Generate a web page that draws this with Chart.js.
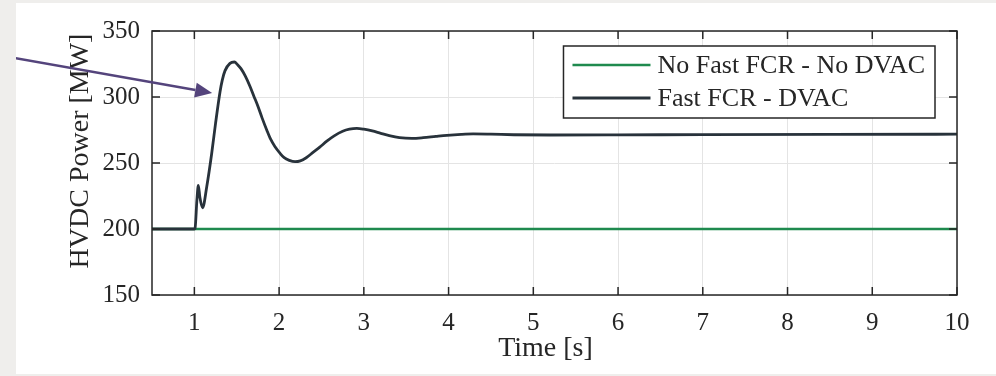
<!DOCTYPE html>
<html>
<head>
<meta charset="utf-8">
<script src="https://cdn.jsdelivr.net/npm/chart.js@4.4.0/dist/chart.umd.min.js"></script>
<style>
    html, body { margin: 0; padding: 0; background: #efeeec; }
    #panel { position: absolute; left: 16px; top: 3px; width: 980px; height: 371px; background: #ffffff; }
</style>
</head>
<body>
<div id="panel"><canvas id="chart" width="980" height="371"></canvas></div>
<script>
// Axis ticks
const timeTicks = [1, 2, 3, 4, 5, 6, 7, 8, 9, 10];
const powerTicks = [150, 200, 250, 300, 350];

// Series labels
const seriesLabels = ['No Fast FCR - No DVAC', 'Fast FCR - DVAC'];

// No Fast FCR - No DVAC (flat)
const baseTime = [0.5, 10];
const basePower = [200, 200];

// Fast FCR - DVAC
const fastTime = [0.5, 1.0, 1.008, 1.03, 1.047, 1.065, 1.097, 1.146, 1.204, 1.25, 1.303, 1.33, 1.362, 1.42, 1.472,
    1.51, 1.55, 1.6, 1.657, 1.7, 1.75, 1.8, 1.854, 1.9, 1.95, 2.012, 2.06, 2.12, 2.189, 2.25, 2.32, 2.4,
    2.48, 2.563, 2.65, 2.75, 2.83, 2.917, 3.0, 3.1, 3.2, 3.3, 3.42, 3.567, 3.7, 3.85, 3.98, 4.15, 4.29,
    4.5, 4.77, 5.2, 6, 7, 8.5, 10];
const fastPower = [200, 200, 200.5, 222, 233, 224, 216, 232, 257, 280, 304, 313, 320, 325.5, 326.5,
    324.5, 321.5, 316, 308, 301, 293, 284, 275, 268, 262.5, 257.3, 254, 252, 251, 251.6, 254, 258,
    262, 266.5, 270.5, 274, 275.6, 276.2, 275.6, 274.3, 272.5, 270.8, 269.3, 268.7, 269.2, 270.2, 271, 271.7, 272,
    271.8, 271.4, 271.2, 271.3, 271.5, 271.7, 271.8];

// Annotation arrow, in data units (tail starts left of the axes)
const arrowFrom = [-1.2, 330.5];
const arrowTo = [1.21, 303];

const colors = {
    green: '#1f8a4e',
    dark: '#28323b',
    arrow: '#54447c',
    axis: '#262626',
    grid: '#e4e4e4'
};

const serif = '"Liberation Serif", "DejaVu Serif", serif';

function toPoints(xs, ys) {
    return xs.map((x, i) => ({ x: x, y: ys[i] }));
}

// Box round the axes with inward ticks on all four sides
const axesFrame = {
    id: 'axesFrame',
    afterDatasetsDraw(chart) {
        const { ctx, chartArea: a, scales } = chart;
        const len = 8;
        ctx.save();
        ctx.strokeStyle = colors.axis;
        ctx.lineWidth = 1.5;
        ctx.strokeRect(a.left, a.top, a.right - a.left, a.bottom - a.top);
        ctx.beginPath();
        timeTicks.forEach(v => {
            const px = scales.x.getPixelForValue(v);
            ctx.moveTo(px, a.bottom); ctx.lineTo(px, a.bottom - len);
            ctx.moveTo(px, a.top); ctx.lineTo(px, a.top + len);
        });
        powerTicks.forEach(v => {
            const py = scales.y.getPixelForValue(v);
            ctx.moveTo(a.left, py); ctx.lineTo(a.left + len, py);
            ctx.moveTo(a.right, py); ctx.lineTo(a.right - len, py);
        });
        ctx.stroke();
        ctx.restore();
    }
};

// Legend drawn inside the axes, top right
const insideLegend = {
    id: 'insideLegend',
    afterDraw(chart) {
        const { ctx, chartArea: a } = chart;
        ctx.save();
        ctx.font = '26px ' + serif;
        const textW = Math.max(...seriesLabels.map(l => ctx.measureText(l).width));
        const w = 9 + 78 + 7 + textW + 10;
        const h = 72;
        const x = a.right - 22 - w;
        const y = a.top + 15;
        ctx.fillStyle = '#ffffff';
        ctx.fillRect(x, y, w, h);
        ctx.strokeStyle = colors.axis;
        ctx.lineWidth = 1.5;
        ctx.strokeRect(x, y, w, h);
        const rows = [y + 19, y + 52];
        chart.data.datasets.forEach((ds, i) => {
            ctx.strokeStyle = ds.borderColor;
            ctx.lineWidth = ds.borderWidth;
            ctx.beginPath();
            ctx.moveTo(x + 9, rows[i]);
            ctx.lineTo(x + 87, rows[i]);
            ctx.stroke();
            ctx.fillStyle = colors.axis;
            ctx.textBaseline = 'middle';
            ctx.textAlign = 'left';
            ctx.fillText(ds.label, x + 94, rows[i] + 1);
        });
        ctx.restore();
    }
};

// Axis titles
const axisTitles = {
    id: 'axisTitles',
    afterDraw(chart) {
        const { ctx, chartArea: a } = chart;
        ctx.save();
        ctx.fillStyle = colors.axis;
        ctx.font = '28px ' + serif;
        ctx.textAlign = 'center';
        ctx.textBaseline = 'alphabetic';
        ctx.fillText('Time [s]', (a.left + a.right) / 2 - 9, 353);
        ctx.translate(72, (a.top + a.bottom) / 2 - 12);
        ctx.rotate(-Math.PI / 2);
        ctx.fillText('HVDC Power [MW]', 0, 0);
        ctx.restore();
    }
};

// Purple annotation arrow pointing at the overshoot
const arrowNote = {
    id: 'arrowNote',
    afterDraw(chart) {
        const { ctx, scales } = chart;
        const x0 = scales.x.getPixelForValue(arrowFrom[0]);
        const y0 = scales.y.getPixelForValue(arrowFrom[1]);
        const x1 = scales.x.getPixelForValue(arrowTo[0]);
        const y1 = scales.y.getPixelForValue(arrowTo[1]);
        const ang = Math.atan2(y1 - y0, x1 - x0);
        const head = 17, half = 7.5;
        const bx = x1 - head * Math.cos(ang);
        const by = y1 - head * Math.sin(ang);
        ctx.save();
        ctx.strokeStyle = colors.arrow;
        ctx.fillStyle = colors.arrow;
        ctx.lineWidth = 2.5;
        ctx.beginPath();
        ctx.moveTo(x0, y0);
        ctx.lineTo(bx, by);
        ctx.stroke();
        ctx.beginPath();
        ctx.moveTo(x1, y1);
        ctx.lineTo(bx + half * Math.sin(ang), by - half * Math.cos(ang));
        ctx.lineTo(bx - half * Math.sin(ang), by + half * Math.cos(ang));
        ctx.closePath();
        ctx.fill();
        ctx.restore();
    }
};

const tickFont = { family: serif, size: 25 };

new Chart(document.getElementById('chart'), {
    type: 'line',
    data: {
        datasets: [
            {
                label: seriesLabels[0],
                data: toPoints(baseTime, basePower),
                borderColor: colors.green,
                borderWidth: 2.6,
                pointRadius: 0,
                order: 1
            },
            {
                label: seriesLabels[1],
                data: toPoints(fastTime, fastPower),
                borderColor: colors.dark,
                borderWidth: 2.8,
                pointRadius: 0,
                cubicInterpolationMode: 'monotone',
                order: 0
            }
        ]
    },
    options: {
        responsive: false,
        animation: false,
        events: [],
        layout: { padding: { top: 28, right: 39, left: 0, bottom: 0 } },
        plugins: {
            legend: { display: false },
            tooltip: { enabled: false }
        },
        scales: {
            x: {
                type: 'linear',
                min: 0.5,
                max: 10,
                afterBuildTicks: s => { s.ticks = timeTicks.map(v => ({ value: v })); },
                afterFit: s => { s.height = 79; },
                grid: { color: colors.grid, lineWidth: 1, drawTicks: false },
                border: { display: false },
                ticks: { padding: 13, color: colors.axis, font: tickFont, maxRotation: 0 }
            },
            y: {
                type: 'linear',
                min: 150,
                max: 350,
                afterBuildTicks: s => { s.ticks = powerTicks.map(v => ({ value: v })); },
                afterFit: s => { s.width = 136; },
                grid: { color: colors.grid, lineWidth: 1, drawTicks: false },
                border: { display: false },
                ticks: { padding: 12, color: colors.axis, font: tickFont }
            }
        }
    },
    plugins: [axesFrame, insideLegend, axisTitles, arrowNote]
});
</script>
</body>
</html>
